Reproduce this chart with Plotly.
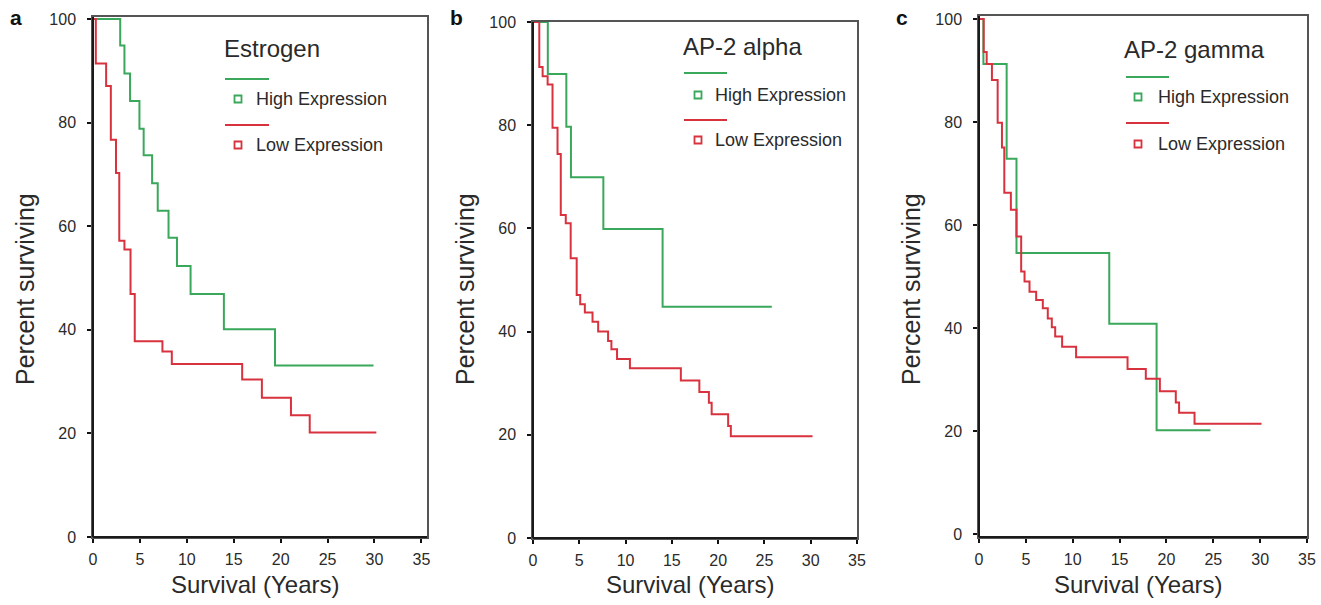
import plotly.graph_objects as go

W, H = 1321, 605

# ---------------- data (years, percent surviving) ----------------
est_high_t = [0, 2.9, 3.35, 3.95, 4.95, 5.4, 6.3, 6.9, 8.05, 8.95, 10.4, 13.95, 19.4, 29.9]
est_high_s = [100, 94.9, 89.5, 84.2, 78.8, 73.7, 68.3, 63.0, 57.8, 52.3, 46.9, 40.1, 33.1]
est_low_t = [0, 0.3, 1.4, 1.9, 2.45, 2.8, 3.35, 4.0, 4.45, 7.4, 8.4, 15.9, 18.0, 21.1, 23.1, 30.2]
est_low_s = [100, 91.4, 87.1, 76.7, 70.3, 57.2, 55.5, 46.9, 37.8, 35.8, 33.4, 30.4, 26.9, 23.5, 20.2]

alpha_high_t = [0, 1.6, 3.6, 4.1, 7.6, 14.0, 25.8]
alpha_high_s = [100, 89.9, 79.7, 69.9, 59.9, 44.8]
alpha_low_t = [0, 0.68, 1.04, 1.58, 2.11, 2.65, 3.0, 3.54, 4.07, 4.72, 5.1, 5.6, 6.43, 7.04,
               8.11, 8.47, 9.08, 10.47, 15.97, 17.97, 19.0, 19.3, 21.08, 21.37, 30.2]
alpha_low_s = [100, 91.3, 89.5, 87.9, 79.5, 74.4, 62.6, 61.0, 54.2, 47.1, 45.3, 43.7, 41.9,
               40.0, 38.2, 36.6, 34.7, 32.9, 30.5, 28.3, 26.2, 24.0, 21.7, 19.7]

gamma_high_t = [0, 0.47, 2.95, 4.0, 13.9, 18.95, 24.7]
gamma_high_s = [100, 91.3, 72.9, 54.6, 40.9, 20.2]
gamma_low_t = [0, 0.5, 0.82, 1.38, 1.99, 2.45, 2.7, 3.4, 4.0, 4.5, 4.86, 5.39, 6.1, 6.81,
               7.34, 7.77, 8.13, 8.87, 10.36, 15.85, 17.8, 19.3, 21.0, 21.35, 23.0, 30.15]
gamma_low_s = [100, 93.6, 91.3, 88.2, 79.9, 75.1, 66.3, 63.0, 57.8, 51.0, 49.1, 47.1, 45.5,
               43.9, 41.9, 40.2, 38.4, 36.4, 34.4, 32.1, 30.2, 27.8, 25.6, 23.6, 21.5]

panel_titles = ["Estrogen", "AP-2 alpha", "AP-2 gamma"]
panel_letters = ["a", "b", "c"]
series_names = ["High Expression", "Low Expression"]
x_ticks = [0, 5, 10, 15, 20, 25, 30, 35]
y_ticks = [0, 20, 40, 60, 80, 100]
x_title = "Survival (Years)"
y_title = "Percent surviving"

GREEN = "#3aa85a"
RED = "#d8323e"
TXT = "#2a2a2a"
FONT = "Liberation Sans, Arial, sans-serif"

panels = [
    (est_high_t, est_high_s, est_low_t, est_low_s),
    (alpha_high_t, alpha_high_s, alpha_low_t, alpha_low_s),
    (gamma_high_t, gamma_high_s, gamma_low_t, gamma_low_s),
]

# layout geometry in pixels: (left, right, top, bottom, xmax, ymin, ymax)
geom = [
    (93, 427, 17, 537, 35.6, 0, 100.4),
    (533, 857, 22, 538, 35.0, 0, 100),
    (979, 1307, 16, 537, 35.0, -0.5, 100.6),
]

fig = go.Figure()
for i, (ht, hs, lt, ls) in enumerate(panels):
    ax = "" if i == 0 else str(i + 1)
    fig.add_trace(go.Scatter(x=ht, y=hs + [hs[-1]], mode="lines",
                             line=dict(shape="hv", color=GREEN, width=2),
                             xaxis="x" + ax, yaxis="y" + ax, showlegend=False,
                             name=series_names[0]))
    fig.add_trace(go.Scatter(x=lt, y=ls + [ls[-1]], mode="lines",
                             line=dict(shape="hv", color=RED, width=2),
                             xaxis="x" + ax, yaxis="y" + ax, showlegend=False,
                             name=series_names[1]))

layout = dict(width=W, height=H, margin=dict(l=0, r=0, t=0, b=0, pad=0, autoexpand=False),
              plot_bgcolor="white", paper_bgcolor="white",
              font=dict(family=FONT, color=TXT))
annotations = []
shapes = []

def px(xp):
    return xp / W

def py(yp):
    return 1 - yp / H

def label(text, x, y, size, xanchor="center", yanchor="middle", angle=0, color=TXT):
    return dict(text=text, x=px(x), y=py(y), xref="paper", yref="paper",
                xanchor=xanchor, yanchor=yanchor, showarrow=False, textangle=angle,
                font=dict(size=size, color=color, family=FONT))

for i, (l, r, t, b, xmax, ymin, ymax) in enumerate(geom):
    ax = "" if i == 0 else str(i + 1)
    common = dict(showgrid=False, zeroline=False, showline=True, linecolor="#555",
                  linewidth=1.5, mirror=True, ticks="outside", ticklen=4, tickwidth=2,
                  tickcolor="#111", automargin=False,
                  tickfont=dict(size=16, color=TXT, family=FONT))
    layout["xaxis" + ax] = dict(domain=[px(l), px(r)], range=[0, xmax], tickvals=x_ticks,
                                anchor="y" + ax, ticklabelstandoff=3, **common)
    layout["yaxis" + ax] = dict(domain=[py(b), py(t)], range=[ymin, ymax], tickvals=y_ticks,
                                anchor="x" + ax, ticklabelstandoff=8, **common)
    # darker left and bottom axis lines
    xr = "x" + ax + " domain"
    yr = "y" + ax + " domain"
    shapes.append(dict(type="line", xref=xr, yref=yr, x0=0, x1=0, y0=0, y1=1,
                       line=dict(color="#1a1a1a", width=2)))
    shapes.append(dict(type="line", xref=xr, yref=yr, x0=0, x1=1, y0=0, y1=0,
                       line=dict(color="#1a1a1a", width=2)))
    annotations.append(label(y_title, l - 68, 289, 25, angle=-90))
    annotations.append(label(x_title, (l + r) / 2 - 5, 584, 24))
    annotations.append(label("<b>%s</b>" % panel_letters[i], l - 77, 17, 21, color="#111"))

# custom SPSS-style legends:
# (title_x, title_y, line_x0, line_x1, sq_x, text_x, y_line1, y_sq1, y_line2, y_sq2)
legend_geo = [
    (222, 48, 225, 269, 238, 254, 79, 99, 125, 145),
    (681, 47, 684, 727, 698, 713, 73, 95, 120, 140),
    (1122, 50, 1126, 1169, 1138, 1156, 77, 97, 123, 144),
]
for i, (tx, ty, lx0, lx1, sx, txx, yl1, ys1, yl2, ys2) in enumerate(legend_geo):
    annotations.append(label(panel_titles[i], tx, ty, 24, xanchor="left"))
    for col, yl, ys, nm in [(GREEN, yl1, ys1, series_names[0]), (RED, yl2, ys2, series_names[1])]:
        shapes.append(dict(type="line", xref="paper", yref="paper", x0=px(lx0), x1=px(lx1),
                           y0=py(yl), y1=py(yl), line=dict(color=col, width=2)))
        shapes.append(dict(type="rect", xref="paper", yref="paper", x0=px(sx - 3.5), x1=px(sx + 3.5),
                           y0=py(ys + 3.5), y1=py(ys - 3.5), line=dict(color=col, width=1.8),
                           fillcolor="white"))
        annotations.append(label(nm, txx, ys, 18, xanchor="left"))

layout["annotations"] = annotations
layout["shapes"] = shapes
fig.update_layout(**layout)
fig.write_html("out.html", config={"displayModeBar": False},
               post_script="document.body.style.margin='0';document.body.style.overflow='hidden';")
